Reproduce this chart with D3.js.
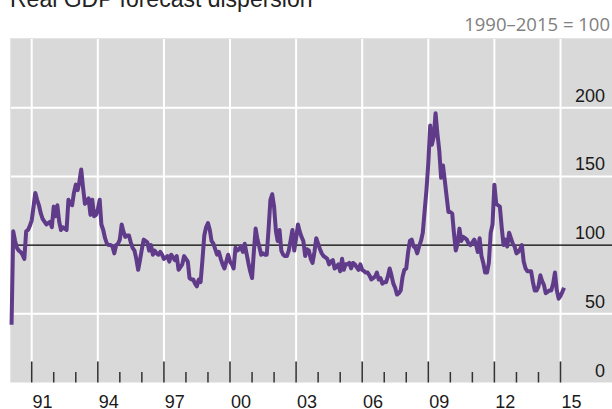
<!DOCTYPE html>
<html>
<head>
<meta charset="utf-8">
<script src="https://cdn.jsdelivr.net/npm/d3@7"></script>
<style>
  body { margin: 0; background: #fff; }
  svg { display: block; }
</style>
</head>
<body>
<svg></svg>

<script>

  // monthly values, first point is Feb 1990
  var startMonth = new Date(1990, 1, 1);
  var values = [
    42, 110, 103, 98, 96, 95, 93, 90, 110, 111, 114,        // 1990 (Feb-Dec)
    118, 128, 138, 133, 129, 123, 119, 117, 115, 116, 117, 113, // 1991
    128, 121, 129, 117, 111, 113, 112, 111, 133, 130, 129, 138, // 1992
    144, 140, 146, 155, 142, 130, 132, 134, 122, 133, 121, 122, // 1993
    126, 133, 115, 111, 105, 101, 100, 100, 99, 94, 100, 101,   // 1994
    104, 115, 110, 106, 107, 107, 102, 98, 96, 90, 82, 89,      // 1995
    97, 104, 103, 102, 96, 100, 93, 96, 94, 93, 95, 93,         // 1996
    90, 91, 92, 88, 93, 91, 89, 92, 82, 84, 86, 92,             // 1997
    90, 88, 76, 75, 75, 72, 70, 75, 73, 89, 107, 113,           // 1998
    116, 111, 103, 101, 97, 93, 95, 90, 86, 83, 88, 93,         // 1999
    88, 86, 83, 98, 96, 97, 99, 95, 101, 94, 87, 81,            // 2000
    76, 96, 112, 104, 99, 93, 94, 93, 93, 111, 133, 137,        // 2001
    128, 110, 103, 111, 96, 93, 92, 92, 96, 103, 111, 96,       // 2002
    105, 115, 110, 106, 103, 92, 97, 96, 90, 87, 95, 105,       // 2003
    101, 97, 94, 92, 91, 90, 86, 88, 89, 83, 84, 86,            // 2004
    81, 90, 82, 86, 86, 87, 83, 87, 86, 84, 82, 86,             // 2005
    82, 81, 80, 80, 78, 75, 76, 77, 80, 75, 76, 72,             // 2006
    73, 73, 77, 83, 78, 72, 69, 64, 65, 67, 77, 82,             // 2007
    83, 95, 103, 104, 99, 98, 94, 99, 103, 109, 125, 140,       // 2008
    160, 187, 173, 179, 196, 181, 169, 149, 158, 147, 135, 124, // 2009
    124, 123, 109, 96, 101, 112, 103, 106, 105, 104, 101, 100,  // 2010
    102, 104, 101, 95, 105, 92, 87, 80, 80, 87, 109, 115,       // 2011
    144, 130, 129, 128, 113, 100, 104, 99, 109, 105, 101, 99,   // 2012
    94, 95, 97, 100, 88, 83, 81, 81, 81, 73, 67, 67,            // 2013
    70, 78, 74, 71, 65, 66, 67, 67, 72, 80, 67, 61,             // 2014
    63, 66, 69                                                  // 2015 (Jan-Mar)
  ];

  var tickYears = d3.range(1990, 2016);
  var labelYears = [1991, 1994, 1997, 2000, 2003, 2006, 2009, 2012, 2015];
  var yTicks = [0, 50, 100, 150, 200];

  var data = values.map(function(v, i) {
    return { date: d3.timeMonth.offset(startMonth, i), value: v };
  });

  var width = 612, height = 409;
  var pLeft = 11, pRight = 612, pTop = 39, pBottom = 382.5;

  var svg = d3.select("svg").attr("width", width).attr("height", height);

  var x = d3.scaleTime()
    .domain([new Date(1991, 0, 1), new Date(2015, 0, 1)])
    .range([31.7, 560.5]);

  var y = d3.scaleLinear()
    .domain([0, 250])
    .range([pBottom, pTop]);

  // title (cut off at the top of the picture) and note
  svg.append("text")
    .attr("x", 10).attr("y", 7)
    .attr("font-family", "Liberation Sans, Arial, sans-serif")
    .attr("font-size", 23)
    .attr("fill", "#222")
    .text("Real GDP forecast dispersion");

  svg.append("text")
    .attr("x", 610).attr("y", 31)
    .attr("text-anchor", "end")
    .attr("font-family", "Open Sans, sans-serif")
    .attr("font-size", 18.5)
    .attr("fill", "#808080")
    .text("1990\u20132015 = 100");

  // plot background
  svg.append("rect")
    .attr("x", pLeft).attr("y", pTop)
    .attr("width", pRight - pLeft).attr("height", pBottom - pTop)
    .attr("fill", "#d9d9d9");
  svg.append("path")
    .attr("d", "M" + (pLeft - 0.5) + "," + pBottom + "V" + (pTop - 0.5) + "H" + pRight)
    .attr("fill", "none")
    .attr("stroke", "#e4e4e4")
    .attr("stroke-width", 1);

  var plot = svg.append("g");

  // horizontal grid
  plot.selectAll("line.hgrid")
    .data(yTicks.filter(function(d) { return d > 0 && d !== 100; }))
    .enter().append("line")
    .attr("class", "hgrid")
    .attr("x1", pLeft).attr("x2", pRight)
    .attr("y1", function(d) { return y(d); })
    .attr("y2", function(d) { return y(d); })
    .attr("stroke", "#fff")
    .attr("stroke-width", 2);

  // vertical grid, every third year
  plot.selectAll("line.vgrid")
    .data(labelYears)
    .enter().append("line")
    .attr("class", "vgrid")
    .attr("x1", function(d) { return x(new Date(d, 0, 1)); })
    .attr("x2", function(d) { return x(new Date(d, 0, 1)); })
    .attr("y1", pTop).attr("y2", pBottom - 21)
    .attr("stroke", "#fff")
    .attr("stroke-width", 2);

  // year ticks: long every third year, short in between
  plot.selectAll("line.tick")
    .data(tickYears.filter(function(d) { return x(new Date(d, 0, 1)) > pLeft; }))
    .enter().append("line")
    .attr("class", "tick")
    .attr("x1", function(d) { return x(new Date(d, 0, 1)); })
    .attr("x2", function(d) { return x(new Date(d, 0, 1)); })
    .attr("y1", function(d) { return labelYears.indexOf(d) >= 0 ? pBottom - 21 : pBottom - 10.5; })
    .attr("y2", pBottom)
    .attr("stroke", "#333")
    .attr("stroke-width", 1.5);

  // the 100 line
  plot.append("line")
    .attr("x1", pLeft).attr("x2", pRight)
    .attr("y1", y(100)).attr("y2", y(100))
    .attr("stroke", "#000")
    .attr("stroke-width", 1.2);

  // the series
  var line = d3.line()
    .x(function(d) { return x(d.date); })
    .y(function(d) { return y(d.value); });

  plot.append("path")
    .datum(data)
    .attr("d", line)
    .attr("fill", "none")
    .attr("stroke", "#5f3b8a")
    .attr("stroke-width", 4)
    .attr("stroke-linejoin", "round");

  // y labels on the right, sitting above their gridline
  svg.selectAll("text.ylab")
    .data(yTicks)
    .enter().append("text")
    .attr("class", "ylab")
    .attr("x", 605)
    .attr("y", function(d) { return y(d) - 6; })
    .attr("text-anchor", "end")
    .attr("font-family", "Liberation Sans, Arial, sans-serif")
    .attr("font-size", 18)
    .attr("fill", "#1a1a1a")
    .text(function(d) { return d; });

  // x labels centred in the year
  svg.selectAll("text.xlab")
    .data(labelYears)
    .enter().append("text")
    .attr("class", "xlab")
    .attr("x", function(d) { return x(new Date(d, 6, 1)); })
    .attr("y", 407.5)
    .attr("text-anchor", "middle")
    .attr("font-family", "Liberation Sans, Arial, sans-serif")
    .attr("font-size", 18)
    .attr("fill", "#1a1a1a")
    .text(function(d) { return String(d).slice(2); });

</script>
</body>
</html>
